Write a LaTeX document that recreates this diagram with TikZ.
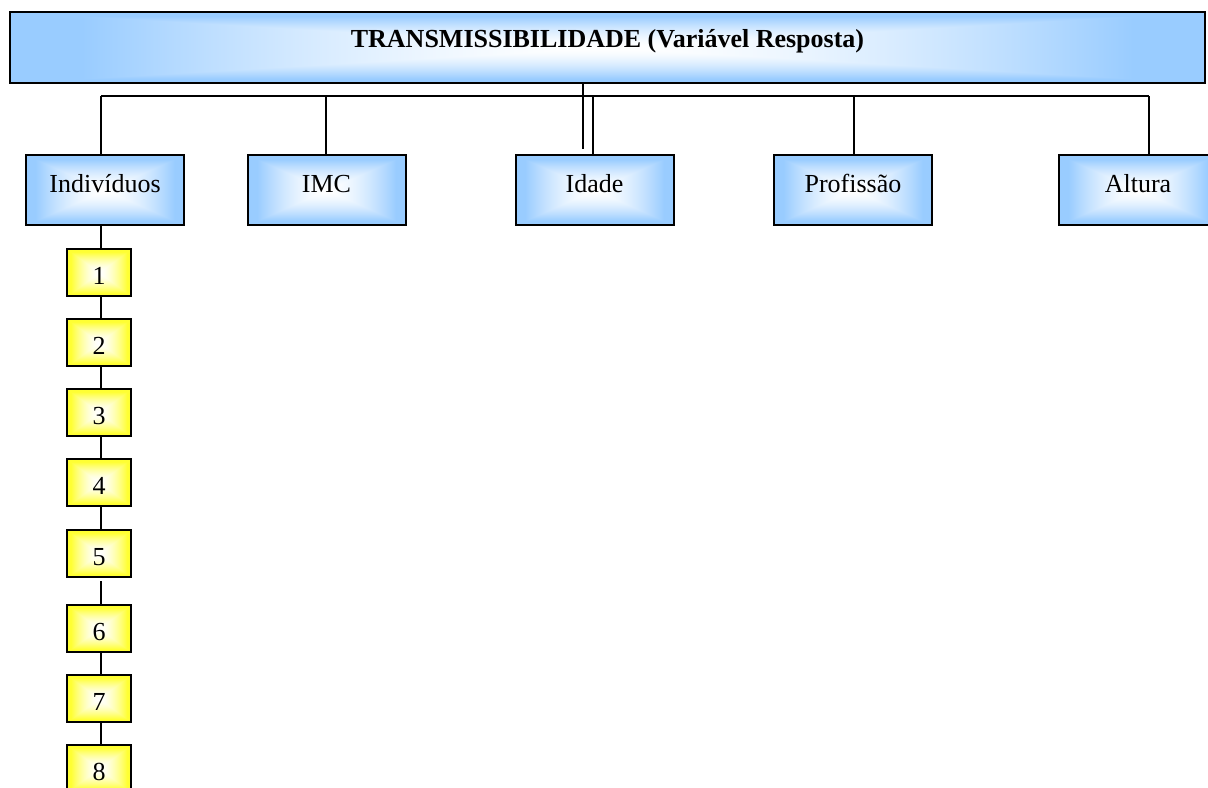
\documentclass[tikz,border=0pt]{standalone}
\usepackage{fontspec}
\setmainfont{Liberation Serif}
\usetikzlibrary{positioning}
\definecolor{Ink}{RGB}{0,0,0}

% glow from the centre out to the edges
\pgfdeclarefunctionalshading{blueglow}{\pgfpoint{-50bp}{-50bp}}{\pgfpoint{50bp}{50bp}}{}{
 abs exch abs 2 copy lt {exch} if pop
 22 div dup 1 gt {pop 1} if 1.6 exp
 dup 0.4 mul 1 exch sub exch 0.2 mul 1 exch sub 1}
\pgfdeclarefunctionalshading{yellowglow}{\pgfpoint{-50bp}{-50bp}}{\pgfpoint{50bp}{50bp}}{}{
 abs exch abs 2 copy lt {exch} if pop
 22 div dup 1 gt {pop 1} if 1.6 exp
 0.8 mul 1 exch sub 1 1 3 -1 roll}

\begin{document}
\begin{tikzpicture}[x=.5pt,y=-.5pt,node distance=10.5pt,
 font=\fontsize{13}{15}\selectfont,
 hd/.style={draw=Ink,line width=1pt,shade,shading=blueglow,inner sep=0pt,
   minimum width=79pt,minimum height=35pt,text height=9pt,text depth=7pt},
 top/.style={hd,minimum width=597.5pt,minimum height=35.5pt,text height=9pt,text depth=9pt,font=\fontsize{13}{15}\selectfont\bfseries},
 nr/.style={draw=Ink,line width=1pt,shade,shading=yellowglow,inner sep=0pt,
   minimum width=32pt,minimum height=23.5pt,text height=11.5pt,text depth=0pt},
 w/.style={line width=.7pt,Ink}]
\useasboundingbox (0,0) rectangle (1208,787);
\node[top] (resp) at (607.5,47.5) {TRANSMISSIBILIDADE (Variável Resposta)};
\node[hd] (ind) at (105,190) {Indivíduos};
\node[hd] (imc) at (326.5,190) {IMC};
\node[hd] (ida) at (594.5,190) {Idade};
\node[hd] (pro) at (853,190) {Profissão};
\node[hd] (alt) at (1138,190) {Altura};
\node[nr] (n1) at (99,272.5) {1};
\node[nr,below=of n1] (n2) {2};
\node[nr,below=of n2] (n3) {3};
\node[nr,below=of n3] (n4) {4};
\node[nr,below=11pt of n4] (n5) {5};
\node[nr,below=13pt of n5] (n6) {6};
\node[nr,below=of n6] (n7) {7};
\node[nr,below=of n7] (n8) {8};
\coordinate (b1) at (101,96);\coordinate (b2) at (326,96);\coordinate (b3) at (593,96);
\coordinate (b4) at (854,96);\coordinate (b5) at (1149,96);\coordinate (stem) at (583,149);
\draw[w] (b1)--(b5);\draw[w] (stem |- resp.south)--(stem);
\draw[w] (b1)--(b1 |- ind.north);\draw[w] (b2)--(b2 |- imc.north);\draw[w] (b3)--(b3 |- ida.north);
\draw[w] (b4)--(b4 |- pro.north);\draw[w] (b5)--(b5 |- alt.north);
\draw[w] (ind.south -| b1)--(n1.north -| b1);\draw[w] (n1.south -| b1)--(n2.north -| b1);
\draw[w] (n2.south -| b1)--(n3.north -| b1);\draw[w] (n3.south -| b1)--(n4.north -| b1);
\draw[w] (n4.south -| b1)--(n5.north -| b1);\draw[w,shorten <=1.5pt] (n5.south -| b1)--(n6.north -| b1);
\draw[w] (n6.south -| b1)--(n7.north -| b1);\draw[w] (n7.south -| b1)--(n8.north -| b1);
\end{tikzpicture}
\end{document}
